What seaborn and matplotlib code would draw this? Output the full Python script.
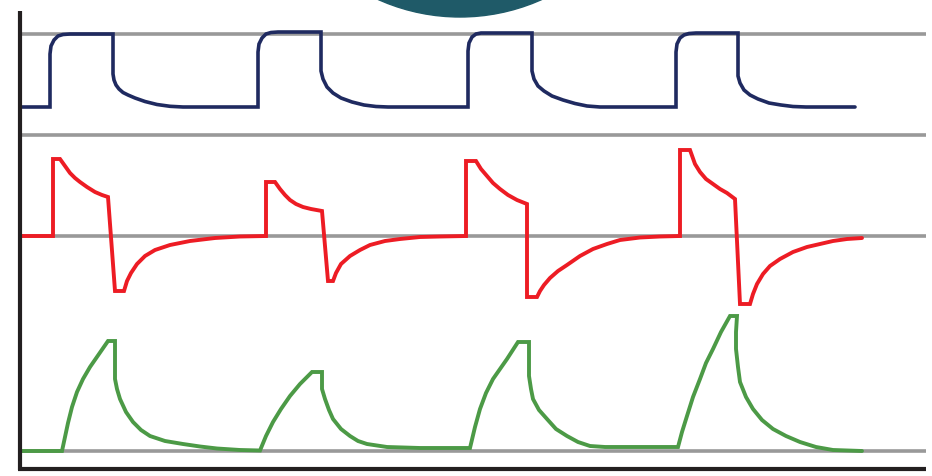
import matplotlib
matplotlib.use("Agg")
import matplotlib.pyplot as plt
import pandas as pd
import seaborn as sns
from matplotlib.patches import Circle

sns.set_theme(style="white")
navy, red, green, grey, ink, teal = "#1f2a60", "#ed1c24", "#4c9a46", "#999999", "#231f20", "#1f5a68"

# pressure trace (top) in pixel units
pressure_t = [22, 50, 50, 51, 54, 58, 63, 70, 113, 113, 114, 116, 119, 123, 128, 135, 145, 157, 170, 183, 258,
              258, 258, 259, 262, 266, 271, 278, 321, 321, 323, 327, 333, 341, 352, 364, 376, 388, 468,
              468, 468, 469, 472, 476, 481, 488, 532, 532, 534, 538, 544, 552, 563, 575, 587, 600, 676,
              676, 676, 677, 680, 684, 689, 696, 738, 738, 740, 744, 750, 758, 769, 781, 793, 806, 855]
pressure_v = [108, 108, 55, 47, 41, 37, 35.5, 35, 35, 75, 81, 86, 90, 93.5, 96, 99, 102.5, 105.5, 107.3, 108, 108,
              108, 53, 45, 39, 35, 33.5, 33, 33, 72, 80, 88, 94, 99, 103, 106, 107.5, 108, 108,
              108, 52, 44, 38, 35, 34, 34, 34, 72, 80, 87, 92, 97, 101, 104.5, 107, 108, 108,
              108, 53, 45, 39, 36, 34.5, 34, 34, 77, 84, 91, 96, 100, 104, 106, 107.5, 108, 108]

# flow trace (middle)
flow_t = [22, 53, 53, 60, 65, 70, 75, 80, 87, 95, 102, 108, 115, 124, 127, 131, 137, 145, 155, 170, 190, 215, 240, 266,
          266, 266, 275, 280, 285, 290, 296, 303, 311, 322, 328, 333, 336, 341, 350, 360, 370, 385, 400, 420, 440, 466,
          466, 466, 476, 481, 487, 493, 500, 508, 517, 527, 527, 537, 540, 544, 550, 558, 567, 580, 593, 607, 620, 640,
          660, 680,
          680, 680, 690, 695, 700, 706, 713, 720, 727, 731, 735, 740, 750, 753, 757, 763, 770, 780, 793, 807, 820, 833,
          847, 862]
flow_v = [237, 237, 160, 160, 167, 174, 179, 183, 188, 193, 196, 198, 292, 292, 282, 274, 265, 257, 251, 246, 242, 239, 237.5, 237,
          237, 183, 183, 190, 196, 201, 205, 208, 210, 212, 282, 282, 274, 265, 257, 251, 246, 242, 240, 238, 237.5, 237,
          237, 162, 162, 170, 177, 184, 190, 196, 201, 205, 298, 298, 292, 286, 279, 272, 266, 257, 250, 245, 241, 238.5,
          237.5, 237,
          237, 151, 151, 165, 173, 180, 185, 190, 194, 197, 200, 305, 305, 295, 285, 275, 267, 260, 253, 248, 245, 242,
          240, 239]

# volume trace (bottom)
volume_t = [20, 62, 65, 68, 72, 77, 83, 90, 99, 108, 115, 115, 117, 120, 126, 133, 141, 150, 165, 183, 200, 217, 240, 260,
            266, 273, 281, 290, 300, 312, 322, 322, 325, 329, 333, 341, 350, 358, 367, 387, 420, 470,
            475, 480, 486, 493, 500, 507, 518, 529, 529, 531, 533, 539, 547, 556, 567, 578, 590, 605, 620, 678,
            682, 687, 693, 700, 706, 713, 721, 730, 737, 736, 736, 738, 740, 746, 753, 762, 773, 786, 800, 816, 833, 862]
volume_v = [452, 452, 438, 424, 408, 393, 380, 368, 355, 342, 342, 380, 390, 400, 413, 423, 431, 437, 442, 445, 447.5, 449.5, 451, 451.5,
            437, 423, 410, 397, 385, 373, 373, 390, 400, 411, 420, 430, 437, 442, 445, 448, 449, 449,
            428, 410, 394, 380, 370, 360, 343, 343, 377, 390, 400, 411, 420, 430, 437, 443, 447, 448, 448, 448,
            433, 417, 398, 380, 364, 350, 333, 317, 317, 333, 350, 368, 383, 398, 410, 421, 430, 437, 443, 448, 451, 452]

ref_levels = [35, 136, 237, 452]

fig = plt.figure(figsize=(9.32, 4.77), dpi=100)
ax = fig.add_axes([0, 0, 1, 1])

# decorative badge cut off at the top
ax.add_patch(Circle((460, -182), 200, color=teal, zorder=1))

ax.hlines(ref_levels, 20, 926, color=grey, lw=2.6, zorder=2)
ax.vlines(19.5, 12, 471, color=ink, lw=3, zorder=4)
ax.hlines(469.5, 18, 926, color=ink, lw=3, zorder=4)

for t, v, color, lw in [
    (pressure_t, pressure_v, navy, 2.6),
    (flow_t, flow_v, red, 2.8),
    (volume_t, volume_v, green, 2.8),
]:
    df = pd.DataFrame({"t": t, "v": v})
    sns.lineplot(data=df, x="t", y="v", sort=False, estimator=None, color=color,
                 linewidth=lw, ax=ax, zorder=3)

for line in ax.lines:
    line.set_solid_joinstyle("miter")
ax.set_xlim(0, 932)
ax.set_ylim(477, 0)
ax.axis("off")

fig.savefig("out.png", dpi=100)
plt.close(fig)
